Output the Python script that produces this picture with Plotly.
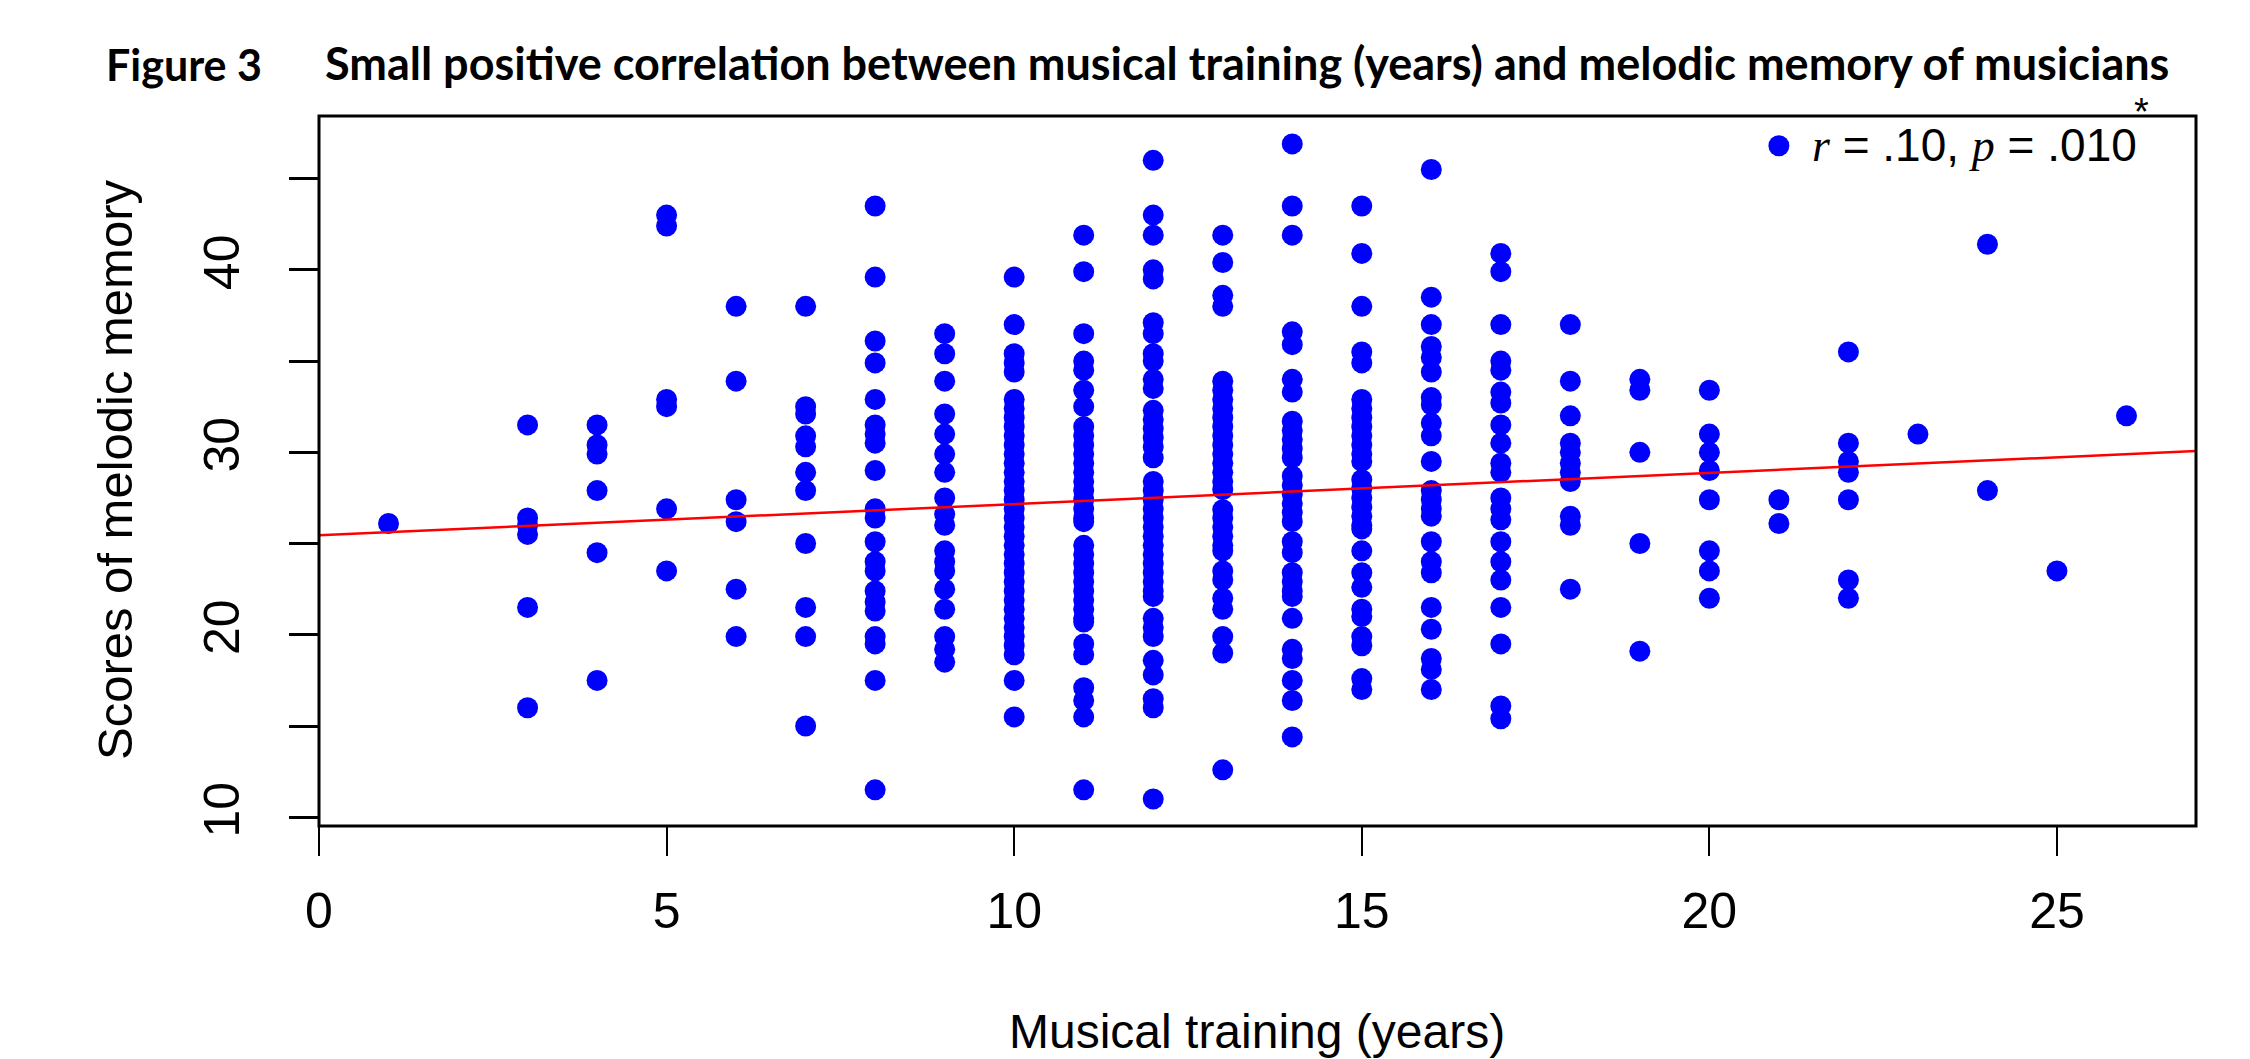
import plotly.graph_objects as go

# ---------------- data ----------------
years = [1, 3, 4, 5, 6, 7, 8, 9, 10, 11, 12, 13, 14, 15, 16, 17, 18, 19, 20, 21, 22, 23, 24, 25, 26]

y_yr01 = [26.1]
y_yr03 = [31.5, 26.4, 26.0, 25.5, 21.5, 16.0]
y_yr04 = [31.5, 30.4, 29.9, 27.9, 24.5, 17.5]
y_yr05 = [43.0, 42.4, 32.9, 32.5, 26.9, 23.5]
y_yr06 = [38.0, 33.9, 27.4, 26.2, 22.5, 19.9]
y_yr07 = [38.0, 32.5, 32.1, 30.9, 30.3, 28.9, 27.9, 25.0, 21.5, 19.9, 15.0]
y_yr08 = [43.5, 39.6, 36.1, 34.9, 32.9, 31.5, 31.0, 30.5, 29.0, 26.9, 26.4, 25.1,
          24.0, 23.5, 22.4, 21.8, 21.3, 19.9, 19.5, 17.5, 11.5]
y_yr09 = [36.5, 35.4, 33.9, 32.1, 31.0, 29.9, 28.9, 27.5, 26.6, 26.0, 24.6, 24.0,
          23.5, 22.5, 21.4, 19.9, 19.2, 18.5]
y_yr10 = [39.6, 37.0, 35.4, 34.9, 34.4, 32.9, 32.4, 31.9, 31.4, 30.9, 30.4, 29.9,
          29.4, 28.9, 28.4, 27.9, 27.4, 26.9, 26.4, 25.9, 25.4, 24.9, 24.4, 23.9,
          23.4, 22.9, 22.4, 21.9, 21.4, 20.9, 20.4, 19.9, 19.4, 18.9, 17.5, 15.5]
y_yr11 = [41.9, 39.9, 36.5, 35.0, 34.5, 33.4, 32.5, 31.4, 30.9, 30.4, 29.9, 29.4,
          28.9, 28.4, 27.9, 27.4, 26.9, 26.4, 26.2, 24.9, 24.4, 23.9, 23.4, 22.9,
          22.4, 21.9, 21.4, 20.9, 20.7, 19.5, 18.9, 17.1, 16.4, 15.5, 11.5]
y_yr12 = [46.0, 43.0, 41.9, 40.0, 39.5, 37.1, 36.5, 35.4, 35.0, 34.0, 33.5, 32.3,
          31.8, 31.3, 30.8, 30.3, 29.7, 28.4, 27.9, 27.4, 26.9, 26.4, 25.9, 25.4,
          24.9, 24.4, 23.9, 23.4, 22.9, 22.4, 22.1, 20.9, 20.4, 19.9, 18.6, 17.8,
          16.5, 16.0, 11.0]
y_yr13 = [41.9, 40.4, 38.6, 38.0, 33.9, 33.4, 32.9, 32.4, 31.9, 31.4, 30.9, 30.4,
          29.9, 29.4, 28.9, 28.4, 27.95, 26.85, 26.4, 25.9, 25.4, 24.9, 24.6, 23.5,
          23.0, 22.0, 21.4, 19.9, 19.0, 12.6]
y_yr14 = [46.9, 43.5, 41.9, 36.6, 35.9, 34.0, 33.3, 31.7, 31.2, 30.7, 30.2, 29.7,
          28.7, 28.2, 27.7, 27.2, 26.7, 26.2, 25.1, 24.5, 23.4, 22.9, 22.4, 22.1,
          20.9, 19.2, 18.7, 17.5, 16.4, 14.4]
y_yr15 = [43.5, 40.9, 38.0, 35.5, 34.9, 32.9, 32.4, 31.9, 31.4, 30.9, 30.4, 29.9,
          29.5, 28.5, 28.0, 27.5, 27.0, 26.5, 26.0, 25.8, 24.6, 23.4, 22.6, 21.4,
          21.0, 19.9, 19.4, 17.6, 17.0]
y_yr16 = [45.5, 38.5, 37.0, 35.8, 35.2, 34.4, 33.0, 32.6, 31.6, 30.9, 29.5, 27.9,
          27.4, 26.9, 26.5, 25.1, 24.0, 23.4, 21.5, 20.3, 18.7, 18.1, 17.0]
y_yr17 = [40.9, 39.9, 37.0, 35.0, 34.5, 33.3, 32.7, 31.5, 30.5, 29.4, 28.9, 27.5,
          26.9, 26.3, 25.1, 24.0, 23.0, 21.5, 19.5, 16.1, 15.4]
y_yr18 = [37.0, 33.9, 32.0, 30.5, 30.0, 29.4, 28.9, 28.4, 26.5, 26.0, 22.5]
y_yr19 = [34.0, 33.4, 30.0, 25.0, 19.1]
y_yr20 = [33.4, 31.0, 30.0, 29.0, 27.4, 24.6, 23.5, 22.0]
y_yr21 = [46.8, 27.4, 26.1]
y_yr22 = [35.5, 30.5, 29.5, 28.9, 27.4, 23.0, 22.0]
y_yr23 = [31.0]
y_yr24 = [41.4, 27.9]
y_yr25 = [23.5]
y_yr26 = [32.0]

scores_by_year = [y_yr01, y_yr03, y_yr04, y_yr05, y_yr06, y_yr07, y_yr08, y_yr09,
                  y_yr10, y_yr11, y_yr12, y_yr13, y_yr14, y_yr15, y_yr16, y_yr17,
                  y_yr18, y_yr19, y_yr20, y_yr21, y_yr22, y_yr23, y_yr24, y_yr25,
                  y_yr26]

# regression line end points
fit_x = [0, 27]
fit_y = [25.45, 30.07]

x_ticks = [0, 5, 10, 15, 20, 25]
y_ticks = [10, 15, 20, 25, 30, 35, 40, 45]
y_ticktext = ["10", "", "20", "", "30", "", "40", ""]

# ---------------- build figure ----------------
xs, ys = [], []
for yr, vals in zip(years, scores_by_year):
    for v in vals:
        xs.append(yr)
        ys.append(v)

W, H = 2250, 1059
L, R, T, B = 319, 54, 116, 233
PW, PH = W - L - R, H - T - B


def px_x(p):
    return (p - L) / PW


def px_y(p):
    return (H - B - p) / PH


fig = go.Figure()
fig.add_trace(go.Scatter(
    x=xs, y=ys, mode="markers",
    marker=dict(size=21, color="#0000FF", line=dict(width=0)),
    showlegend=False, hoverinfo="skip", cliponaxis=False,
))
fig.add_trace(go.Scatter(
    x=fit_x, y=fit_y, mode="lines",
    line=dict(color="#FF0000", width=2.5),
    showlegend=False, hoverinfo="skip",
))

tick_font = dict(family="Liberation Sans, Arial, sans-serif", size=50, color="black")

fig.update_layout(
    width=W, height=H,
    margin=dict(l=L, r=R, t=T, b=B, pad=0),
    paper_bgcolor="white", plot_bgcolor="white",
    xaxis=dict(
        range=[0, 27], tickvals=x_ticks, ticktext=[str(v) for v in x_ticks],
        ticks="outside", ticklen=29, tickwidth=2, tickcolor="black",
        showline=False, showgrid=False, zeroline=False,
        tickfont=tick_font, ticklabelstandoff=12,
    ),
    yaxis=dict(
        range=[9.52, 48.43], tickvals=y_ticks, ticktext=y_ticktext,
        tickangle=-90,
        ticks="outside", ticklen=29, tickwidth=3, tickcolor="black",
        showline=False, showgrid=False, zeroline=False,
        tickfont=tick_font, ticklabelstandoff=30,
    ),
    shapes=[dict(type="rect", xref="paper", yref="paper", x0=0, x1=1, y0=0, y1=1,
                 line=dict(color="black", width=3), layer="above")],
)

fig_font = dict(family="Lato, Carlito, Calibri, sans-serif", size=43, color="black")
title_font = dict(family="Lato, Carlito, Calibri, sans-serif", size=45, color="black")
annots = [
    dict(text="<b>Figure 3</b>", x=px_x(104), y=px_y(82), xanchor="left", yanchor="bottom",
         font=fig_font, yshift=-10),
    dict(text="<b>Small positive correlation between musical training (years) and melodic memory of musicians</b>",
         x=px_x(323), y=px_y(82), xanchor="left", yanchor="bottom", font=title_font, yshift=-10),
    dict(text="Musical training (years)", x=px_x(1257), y=px_y(1003),
         xanchor="center", yanchor="top",
         font=dict(family="Liberation Sans, Arial, sans-serif", size=48, color="black")),
    dict(text="Scores of melodic memory", x=px_x(115), y=px_y(470), textangle=-90,
         xanchor="center", yanchor="middle",
         font=dict(family="Liberation Sans, Arial, sans-serif", size=49, color="black")),
    dict(text="<span style='font-family:Liberation Serif'><i>r</i></span> = .10, "
              "<span style='font-family:Liberation Serif'><i>p</i></span> = .010",
         x=px_x(2139), y=px_y(173), xanchor="right", yanchor="bottom",
         font=dict(family="Liberation Sans, Arial, sans-serif", size=46, color="black")),
    dict(text="*", x=px_x(2141), y=px_y(112), xanchor="center", yanchor="middle",
         font=dict(family="Liberation Sans, Arial, sans-serif", size=38, color="black")),
]
for a in annots:
    a.update(xref="paper", yref="paper", showarrow=False)
fig.update_layout(annotations=annots)

fig.write_html("out.html")
